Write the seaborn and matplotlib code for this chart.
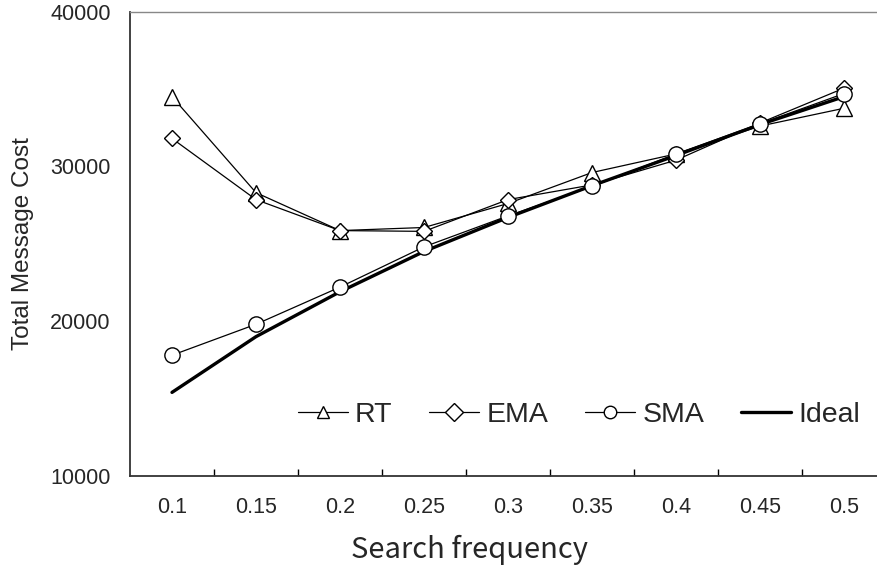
import matplotlib
matplotlib.use("Agg")
import matplotlib.pyplot as plt
import seaborn as sns
import numpy as np
from matplotlib.ticker import FixedLocator

# Search frequencies (categorical axis) and total message cost per method
frequencies = ["0.1", "0.15", "0.2", "0.25", "0.3", "0.35", "0.4", "0.45", "0.5"]
rt_cost = [34500, 28300, 25850, 26050, 27600, 29600, 30800, 32600, 33750]
ema_cost = [31800, 27850, 25850, 25800, 27850, 28800, 30400, 32800, 35050]
sma_cost = [17800, 19800, 22200, 24800, 26800, 28700, 30800, 32750, 34700]
ideal_cost = [15400, 19000, 21900, 24500, 26700, 28750, 30700, 32700, 34500]

y_ticks = [10000, 20000, 30000, 40000]

sns.set_theme(style="white")
plt.rcParams["font.family"] = ["Liberation Sans", "DejaVu Sans"]

fig = plt.figure(figsize=(8.78, 5.65), dpi=100)
ax = fig.add_axes([130 / 878, 1 - 476 / 565, 756 / 878, (476 - 11.5) / 565])

pos = np.arange(len(frequencies))

sns.lineplot(x=pos, y=ideal_cost, ax=ax, color="black", linewidth=2.4,
             label="Ideal", zorder=2)
sns.lineplot(x=pos, y=rt_cost, ax=ax, color="black", linewidth=0.9, marker="^",
             markersize=11.5, markerfacecolor="white", markeredgecolor="black",
             markeredgewidth=1.0, label="RT", zorder=3)
sns.lineplot(x=pos, y=ema_cost, ax=ax, color="black", linewidth=0.9, marker="D",
             markersize=8.5, markerfacecolor="white", markeredgecolor="black",
             markeredgewidth=1.0, label="EMA", zorder=4)
sns.lineplot(x=pos, y=sma_cost, ax=ax, color="black", linewidth=0.9, marker="o",
             markersize=11, markerfacecolor="white", markeredgecolor="black",
             markeredgewidth=1.0, label="SMA", zorder=5)

ax.set_xlim(-0.5, len(frequencies) - 0.5)
ax.set_ylim(10000, 40000)

# Category labels centred, tick marks between categories
ax.set_xticks(pos)
ax.set_xticklabels(frequencies, fontsize=15.5,
                   family=["Liberation Sans Narrow", "Liberation Sans", "DejaVu Sans"])
ax.xaxis.set_minor_locator(FixedLocator(np.arange(0.5, len(frequencies) - 1, 1.0)))
ax.tick_params(axis="x", which="major", length=0, pad=15)
ax.tick_params(axis="x", which="minor", direction="in", length=5, width=1.0,
               color="black", bottom=True)

ax.set_yticks(y_ticks)
ax.set_yticklabels([str(v) for v in y_ticks], fontsize=15.5)
ax.tick_params(axis="y", length=0, pad=14)

ax.set_xlabel("Search frequency", fontsize=21,
              family=["Noto Sans CJK JP", "DejaVu Sans"])
ax.xaxis.set_label_coords((470 - 130) / 756, -(535 - 476) / 464.5)
ax.set_ylabel("Total Message Cost", fontsize=17.5)
ax.yaxis.set_label_coords(-(130 - 34) / 756, 0.5)

for side in ["left", "bottom"]:
    ax.spines[side].set_color("#333333")
    ax.spines[side].set_linewidth(1.3)
ax.spines["top"].set_color("#888888")
ax.spines["top"].set_linewidth(1.0)
ax.spines["right"].set_visible(False)

handles, labels = ax.get_legend_handles_labels()
order = ["RT", "EMA", "SMA", "Ideal"]
hmap = dict(zip(labels, handles))
leg = ax.legend([hmap[k] for k in order], order, loc="center left",
                bbox_to_anchor=((298 - 130) / 756, (476 - 415) / 464.5), ncol=4,
                frameon=False, fontsize=20.5, handlelength=1.75, handletextpad=0.25,
                columnspacing=1.3, borderaxespad=0, borderpad=0)
for line in leg.get_lines():
    line.set_markersize(9)

fig.savefig("out.png", dpi=100)
